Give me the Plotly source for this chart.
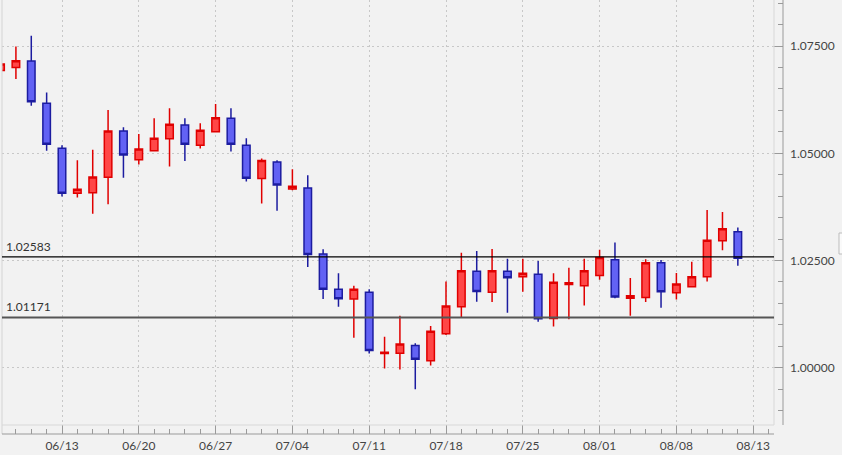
import plotly.graph_objects as go
import numpy as np

# ---- data ----
tick_labels = ["06/13", "06/20", "06/27", "07/04", "07/11", "07/18", "07/25", "08/01", "08/08", "08/13"]
bar_index = list(range(-4, 45))  # bar 0 falls on 06/13

opens = [1.0693, 1.0700, 1.0715, 1.0617, 1.0512, 1.0407, 1.0408, 1.0444, 1.0552, 1.0485,
         1.0506, 1.0534, 1.0566, 1.0519, 1.0550, 1.0582, 1.0519, 1.0441, 1.0480, 1.0417,
         1.0419, 1.0265, 1.0183, 1.0160, 1.0176, 1.0033, 1.0034, 1.0052, 1.0016, 1.0079,
         1.0142, 1.0225, 1.0176, 1.0225, 1.0212, 1.0218, 1.0115, 1.0194, 1.0191, 1.0215,
         1.0252, 1.0162, 1.0164, 1.0245, 1.0175, 1.0189, 1.0212, 1.0296, 1.0317]
highs = [1.0709, 1.0749, 1.0774, 1.0642, 1.0519, 1.0484, 1.0508, 1.0601, 1.0561, 1.0545,
         1.0582, 1.0605, 1.0582, 1.0570, 1.0615, 1.0605, 1.0535, 1.0488, 1.0484, 1.0463,
         1.0449, 1.0276, 1.0220, 1.0191, 1.0183, 1.0072, 1.0121, 1.0057, 1.0097, 1.0201,
         1.0268, 1.0272, 1.0277, 1.0254, 1.0254, 1.0249, 1.0220, 1.0233, 1.0254, 1.0275,
         1.0292, 1.0209, 1.0253, 1.0251, 1.0221, 1.0247, 1.0368, 1.0363, 1.0327]
lows = [1.0692, 1.0673, 1.0611, 1.0506, 1.0399, 1.0397, 1.0359, 1.0381, 1.0443, 1.0474,
        1.0504, 1.0469, 1.0482, 1.0511, 1.0549, 1.0504, 1.0434, 1.0383, 1.0366, 1.0414,
        1.0235, 1.0160, 1.0142, 1.0070, 1.0033, 0.9998, 0.9996, 0.9950, 1.0005, 1.0076,
        1.0118, 1.0154, 1.0153, 1.0128, 1.0177, 1.0107, 1.0096, 1.0113, 1.0145, 1.0205,
        1.0162, 1.0121, 1.0153, 1.0140, 1.0159, 1.0187, 1.0201, 1.0274, 1.0238]
closes = [1.0708, 1.0716, 1.0620, 1.0521, 1.0407, 1.0416, 1.0445, 1.0552, 1.0496, 1.0510,
          1.0535, 1.0568, 1.0521, 1.0554, 1.0583, 1.0521, 1.0442, 1.0483, 1.0426, 1.0423,
          1.0264, 1.0183, 1.0161, 1.0183, 1.0040, 1.0036, 1.0055, 1.0020, 1.0085, 1.0144,
          1.0226, 1.0178, 1.0226, 1.0210, 1.0220, 1.0114, 1.0199, 1.0198, 1.0226, 1.0257,
          1.0165, 1.0168, 1.0245, 1.0177, 1.0195, 1.0212, 1.0297, 1.0324, 1.0255]

level_values = [1.02583, 1.01171]
level_labels = ["1.02583", "1.01171"]
y_major = [1.00, 1.025, 1.05, 1.075]

# ---- figure ----
W, H = 842, 455
L, R, T, B = 2, 59, 0, 21
plot_w = W - L - R
plot_h = H - T - B
inner_x = (774 - L) / plot_w       # inner border (paper)
inner_y = (434 - 425) / plot_h

BG = "#f2f2f2"
FONT = "Lato"

fig = go.Figure()
fig.add_trace(go.Candlestick(
    x=bar_index, open=opens, high=highs, low=lows, close=closes,
    increasing=dict(line=dict(color="#e00000", width=1.5), fillcolor="#ff4747"),
    decreasing=dict(line=dict(color="#1c1ca0", width=1.5), fillcolor="#6262f4"),
    whiskerwidth=0, showlegend=False, hoverinfo="skip",
))

tickvals = [i * 5 for i in range(len(tick_labels))]
x_minor = list(range(-3, 47))
y_minor = [round(v, 3) for v in np.arange(0.990, 1.0851, 0.005)]

fig.update_layout(
    width=W, height=H,
    margin=dict(l=L, r=R, t=T, b=B, pad=0, autoexpand=False),
    paper_bgcolor=BG, plot_bgcolor=BG,
    font=dict(family=FONT, size=12, color="#444"),
    showlegend=False,
    xaxis=dict(
        range=[-3.906, 46.94], rangeslider=dict(visible=False),
        tickmode="array", tickvals=tickvals, ticktext=tick_labels,
        ticks="inside", ticklen=9, tickcolor="#9a9a9a", tickwidth=1,
        showline=False, zeroline=False, automargin=False,
        showgrid=True, gridcolor="#c8c8c8", gridwidth=1, griddash="2px,3px",
        minor=dict(tickmode="array", tickvals=x_minor, ticks="inside", ticklen=5,
                   tickcolor="#9a9a9a", showgrid=False),
        tickfont=dict(family=FONT, size=12, color="#444"),
        ticklabelstandoff=3,
        fixedrange=True,
    ),
    yaxis=dict(
        range=[0.98454, 1.08575], side="right",
        tickmode="array", tickvals=y_major, tickformat=".5f",
        ticks="inside", ticklen=9, tickcolor="#9a9a9a", tickwidth=1,
        showline=False, zeroline=False, automargin=False,
        showgrid=True, gridcolor="#c8c8c8", gridwidth=1, griddash="2px,3px",
        minor=dict(tickmode="array", tickvals=y_minor, ticks="inside", ticklen=5,
                   tickcolor="#9a9a9a", showgrid=False),
        tickfont=dict(family=FONT, size=12, color="#444"),
        ticklabelstandoff=6,
        fixedrange=True,
    ),
)

shapes = [
    # left border
    dict(type="line", xref="paper", yref="paper", x0=0, x1=0, y0=0, y1=1,
         line=dict(color="#d4d4d4", width=1)),
    # inner borders
    dict(type="line", xref="paper", yref="paper", x0=inner_x, x1=inner_x, y0=inner_y, y1=1,
         line=dict(color="#d8d8d8", width=1)),
    dict(type="line", xref="paper", yref="paper", x0=0, x1=inner_x, y0=inner_y, y1=inner_y,
         line=dict(color="#d8d8d8", width=1)),
    # axis lines
    dict(type="line", xref="paper", yref="paper", x0=0, x1=inner_x, y0=0, y1=0,
         line=dict(color="#9a9a9a", width=1)),
    dict(type="line", xref="paper", yref="paper", x0=1, x1=1, y0=inner_y, y1=1,
         line=dict(color="#9a9a9a", width=1)),
    # small handle at the right edge
    dict(type="rect", xref="paper", yref="paper",
         x0=(839 - L) / plot_w, x1=(845 - L) / plot_w,
         y0=(434 - 254) / plot_h, y1=(434 - 233) / plot_h,
         line=dict(color="#bcbcbc", width=1), fillcolor="#fafafa", layer="above"),
]
level_styles = [dict(color="#000000", width=1.2), dict(color="#555555", width=1.8)]
for v, st in zip(level_values, level_styles):
    shapes.append(dict(type="line", xref="paper", yref="y", x0=0, x1=inner_x, y0=v, y1=v,
                       line=st, layer="above"))
fig.update_layout(shapes=shapes)

for v, t in zip(level_values, level_labels):
    fig.add_annotation(x=0, xref="paper", y=v, yref="y", text=t, showarrow=False,
                       xanchor="left", yanchor="bottom", xshift=2, yshift=1,
                       font=dict(family=FONT, size=12, color="#333"))

fig.write_html("out.html",
               config={"displayModeBar": False},
               post_script="document.body.style.margin='0';document.body.style.padding='0';")
